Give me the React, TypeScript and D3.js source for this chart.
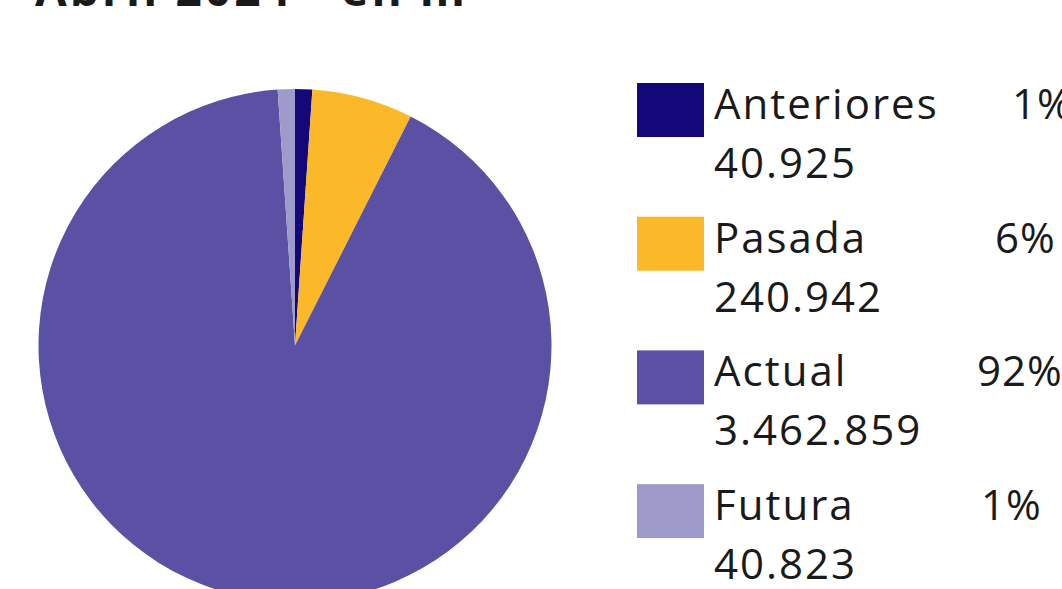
import React, { useEffect, useRef } from "react";
import * as d3 from "d3";

// Datos del gráfico
const categories = ["Anteriores", "Pasada", "Actual", "Futura"];
const values = [40925, 240942, 3462859, 40823];
const valueLabels = ["40.925", "240.942", "3.462.859", "40.823"];
const percentLabels = ["1%", "6%", "92%", "1%"];
const colors = ["#13077a", "#fbb829", "#5a50a4", "#9e9bcb"];

const title = "Abril 2024 - en m";

const width = 1062;
const height = 589;

export default function App() {
  const svgRef = useRef<SVGSVGElement>(null);

  useEffect(() => {
    const svg = d3.select(svgRef.current);
    svg.selectAll("*").remove();

    const font = "'Open Sans', 'DejaVu Sans', sans-serif";

    // Title (cropped at the top in the reference)
    svg.append("text")
      .attr("x", 35)
      .attr("y", 6)
      .attr("font-family", font)
      .attr("font-weight", 700)
      .attr("font-size", 46)
      .attr("textLength", 430)
      .attr("lengthAdjust", "spacing")
      .attr("fill", "#1a1a1a")
      .text(title);

    // Pie
    const cx = 295;
    const cy = 345.5;
    const radius = 256.5;

    const pie = d3.pie<number>().sort(null).value((d) => d);
    const arc = d3.arc<d3.PieArcDatum<number>>().innerRadius(0).outerRadius(radius);

    svg.append("g")
      .attr("transform", `translate(${cx},${cy})`)
      .selectAll("path")
      .data(pie(values))
      .join("path")
      .attr("d", arc)
      .attr("fill", (_, i) => colors[i]);

    // Legend
    const legendX = 637;
    const legendTop = 83;
    const rowStep = 133.7;
    const pctX = [1012, 995, 977, 981];

    const rows = svg.append("g")
      .selectAll("g")
      .data(categories)
      .join("g")
      .attr("transform", (_, i) => `translate(${legendX},${legendTop + i * rowStep})`);

    rows.append("rect")
      .attr("width", 67)
      .attr("height", 54)
      .attr("fill", (_, i) => colors[i]);

    const textStyle = (sel: any) =>
      sel
        .attr("font-family", font)
        .attr("font-size", 42)
        .attr("letter-spacing", 2)
        .attr("fill", "#1a1a1a");

    rows.append("text")
      .attr("x", 77)
      .attr("y", 36)
      .call(textStyle)
      .text((d) => d);

    rows.append("text")
      .attr("x", (_, i) => pctX[i] - legendX)
      .attr("y", 36)
      .call(textStyle)
      .attr("letter-spacing", 1)
      .text((_, i) => percentLabels[i]);

    rows.append("text")
      .attr("x", 77)
      .attr("y", 95)
      .call(textStyle)
      .text((_, i) => valueLabels[i]);
  }, []);

  return (
    <svg
      ref={svgRef}
      width={width}
      height={height}
      style={{ position: "absolute", left: 0, top: 0, background: "#fff" }}
    />
  );
}
